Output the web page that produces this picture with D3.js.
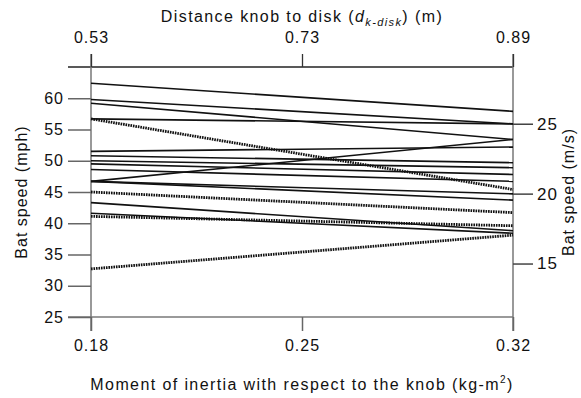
<!DOCTYPE html>
<html lang="en">
<head>
  <meta charset="UTF-8" />
  <title>Bat speed vs moment of inertia</title>
  <style>
    body { margin: 0; background: #fff; }
    svg text { font-family: "Liberation Sans", Arial, sans-serif; fill: #111; letter-spacing: 1.4px; }
    svg .tick text { letter-spacing: 1px; }
  </style>
</head>
<body>
  <div id="chart"></div>
  <script src="https://d3js.org/d3.v7.min.js"></script>
  <script>
    // Moment of inertia ticks (bottom) and matching knob-to-disk distances (top)
    const inertiaTicks = [0.18, 0.25, 0.32];
    const distanceTicks = [0.53, 0.73, 0.89];
    const mphTicks = [25, 30, 35, 40, 45, 50, 55, 60];
    const msTicks = [15, 20, 25];

    // Bat speed (mph) for each bat at the light and heavy end
    const speedLight = [62.4, 59.8, 59.2, 56.7, 56.7, 46.7, 51.5, 50.8, 50.0, 49.5, 48.6, 46.7, 46.7, 45.0, 43.3, 41.6, 41.1, 32.7];
    const speedHeavy = [57.9, 55.9, 53.4, 55.9, 45.4, 53.4, 52.2, 49.7, 48.9, 47.8, 46.7, 44.7, 43.7, 41.7, 38.8, 38.4, 39.6, 38.1];
    const dotted     = [false, false, false, false, true, false, false, false, false, false, false, false, false, true, false, false, true, true];

    const W = 581, H = 398;
    const margin = { top: 67, right: 68, bottom: 81, left: 91 };

    const svg = d3.select("#chart").append("svg")
      .attr("width", W)
      .attr("height", H);

    const x = d3.scaleLinear().domain([0.18, 0.32]).range([margin.left, W - margin.right]);
    // top axis is laid on the same positions as the inertia ticks
    const xTop = d3.scaleLinear().domain(distanceTicks).range(inertiaTicks.map(x));
    const y = d3.scaleLinear().domain([25, 65]).range([H - margin.bottom, margin.top]);
    const yMs = d3.scaleLinear().domain([25 / 2.23694, 65 / 2.23694]).range([H - margin.bottom, margin.top]);

    const x0 = x(0.18), x1 = x(0.32), yBottom = y(25), yTop = y(65);

    // frame lines
    svg.append("line")
      .attr("x1", 68).attr("x2", x1).attr("y1", yBottom).attr("y2", yBottom)
      .attr("stroke", "#9a9a9a").attr("stroke-width", 2);
    svg.append("line")
      .attr("x1", 68).attr("x2", x1).attr("y1", yTop).attr("y2", yTop)
      .attr("stroke", "#222").attr("stroke-width", 1.3);
    [x0, x1].forEach(px => {
      svg.append("line")
        .attr("x1", px).attr("x2", px).attr("y1", yTop - 13).attr("y2", yBottom + 14)
        .attr("stroke", "#777").attr("stroke-width", 1.5);
    });

    // left axis
    const leftAxis = svg.append("g")
      .attr("transform", `translate(${x0},0)`)
      .call(d3.axisLeft(y).tickValues(mphTicks).tickSize(23).tickPadding(4));
    leftAxis.select(".domain").remove();
    leftAxis.selectAll(".tick line").attr("stroke", "#666").attr("stroke-width", 1.5);
    leftAxis.selectAll(".tick text").style("font-size", "16px");

    // right axis (m/s)
    const rightAxis = svg.append("g")
      .attr("transform", `translate(${x1},0)`)
      .call(d3.axisRight(yMs).tickValues(msTicks).tickSize(20).tickPadding(4));
    rightAxis.select(".domain").remove();
    rightAxis.selectAll(".tick line").attr("stroke", "#444").attr("stroke-width", 1.5);
    rightAxis.selectAll(".tick text").style("font-size", "17px");

    // bottom axis
    const bottomAxis = svg.append("g")
      .attr("transform", `translate(0,${yBottom})`)
      .call(d3.axisBottom(x).tickValues(inertiaTicks).tickFormat(d3.format(".2f")).tickSize(14).tickPadding(9));
    bottomAxis.select(".domain").remove();
    bottomAxis.selectAll(".tick line").attr("stroke", "#666").attr("stroke-width", 1.5);
    bottomAxis.selectAll(".tick text").style("font-size", "16px");

    // top axis
    const topAxis = svg.append("g")
      .attr("transform", `translate(0,${yTop})`)
      .call(d3.axisTop(xTop).tickValues(distanceTicks).tickFormat(d3.format(".2f")).tickSize(13).tickPadding(11));
    topAxis.select(".domain").remove();
    topAxis.selectAll(".tick line").attr("stroke", "#333").attr("stroke-width", 1.3);
    topAxis.selectAll(".tick text").style("font-size", "16px");

    // bat lines
    const bats = speedLight.map((v, i) => ({ a: v, b: speedHeavy[i], dot: dotted[i] }));
    svg.append("g").selectAll("line")
      .data(bats)
      .join("line")
      .attr("x1", x(0.18)).attr("x2", x(0.32))
      .attr("y1", d => y(d.a)).attr("y2", d => y(d.b))
      .attr("stroke", "#111")
      .attr("stroke-width", d => d.dot ? 2.8 : 1.6)
      .attr("stroke-dasharray", d => d.dot ? "1.6,0.9" : null);

    // titles
    const topTitle = svg.append("text")
      .attr("x", x(0.25)).attr("y", 22)
      .attr("text-anchor", "middle")
      .style("font-size", "16px");
    topTitle.append("tspan").text("Distance knob to disk (");
    topTitle.append("tspan").attr("font-style", "italic").text("d");
    topTitle.append("tspan").attr("font-style", "italic").attr("dy", 4).style("font-size", "11px").text("k-disk");
    topTitle.append("tspan").attr("dy", -4).text(") (m)");

    const bottomTitle = svg.append("text")
      .attr("x", x(0.25)).attr("y", 390)
      .attr("text-anchor", "middle")
      .style("font-size", "16px");
    bottomTitle.append("tspan").text("Moment of inertia with respect to the knob (kg-m");
    bottomTitle.append("tspan").attr("dy", -7).style("font-size", "10px").text("2");
    bottomTitle.append("tspan").attr("dy", 7).text(")");

    svg.append("text")
      .attr("transform", `translate(27,${y(45)}) rotate(-90)`)
      .attr("text-anchor", "middle")
      .style("font-size", "16px")
      .style("letter-spacing", "1px")
      .text("Bat speed (mph)");

    svg.append("text")
      .attr("transform", `translate(574,${y(45)}) rotate(-90)`)
      .attr("text-anchor", "middle")
      .style("font-size", "16px")
      .style("letter-spacing", "1px")
      .text("Bat speed (m/s)");
  </script>
</body>
</html>
